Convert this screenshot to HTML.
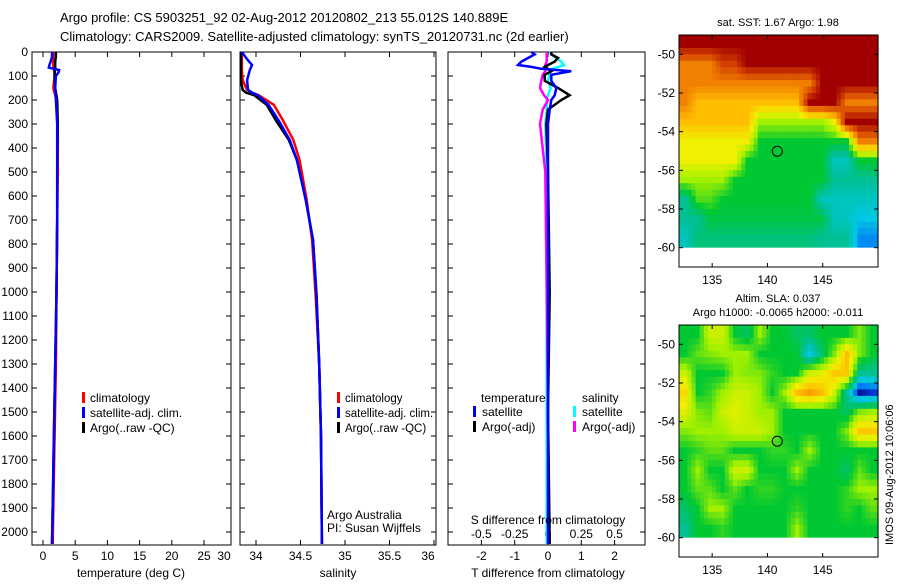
<!DOCTYPE html>
<html><head><meta charset="utf-8"><style>
body{margin:0;background:#fff;}
svg text{font-family:"Liberation Sans",sans-serif;font-size:12px;fill:#000;}
</style></head><body>
<svg id="c" width="900" height="580" viewBox="0 0 900 580" xmlns="http://www.w3.org/2000/svg">
<text x="60" y="22" style="font-size:13px">Argo profile: CS 5903251_92 02-Aug-2012 20120802_213 55.012S 140.889E</text>
<text x="60" y="41" style="font-size:13px">Climatology: CARS2009. Satellite-adjusted climatology: synTS_20120731.nc (2d earlier)</text>
<g id="g"></g>
</svg>
<script>
// ---- data ----
const tDepth=[0,20,40,54,65,75,85,100,150,200,300,500,700,1000,1300,1600,1900,2050];
const tClim=[1.6,1.6,1.6,1.6,1.6,1.7,1.8,1.8,1.6,2.1,2.3,2.3,2.2,2.1,2.0,1.8,1.6,1.5];
const tSat=[1.4,1.4,1.2,1.0,0.9,2.5,2.4,2.0,1.9,2.0,2.2,2.2,2.2,2.1,1.9,1.7,1.5,1.4];
const tArgo=[2.0,2.0,1.9,1.9,1.9,1.9,1.8,1.8,1.9,2.2,2.3,2.2,2.2,2.1,1.9,1.7,1.5,1.4];
const sDepth=[0,30,54,75,117,158,170,180,220,283,367,450,617,783,1012,1300,1600,2050];
const sClim=[33.84,33.84,33.84,33.84,33.85,33.9,33.96,34.03,34.2,34.3,34.42,34.49,34.57,34.63,34.67,34.71,34.73,34.74];
const sSat=[33.84,33.9,33.955,33.93,33.9,33.91,33.96,34.02,34.14,34.25,34.38,34.46,34.56,34.64,34.68,34.71,34.73,34.74];
const sArgo=[33.83,33.83,33.83,33.83,33.83,33.85,33.89,33.98,34.12,34.22,34.37,34.46,34.56,34.64,34.68,34.71,34.73,34.74];
const dDepth=[0,10,25,40,54,62,70,80,95,120,150,180,200,240,300,500,1000,1500,2050];
const dTsat=[-0.5,-0.4,-0.6,-0.8,-0.9,-0.5,-0.2,0.7,0.1,0.1,0.25,0.2,0.1,0.05,0.0,0.0,0.0,0.0,0.0];
const dTargo=[0.1,0.1,0.3,0.2,0.0,-0.1,0.0,0.1,-0.1,-0.1,0.3,0.65,0.4,0.0,-0.05,0.0,0.05,0.0,0.05];
const dSsat=[0.01,0.03,0.06,0.1,0.12,0.08,0.03,0.02,0.01,0.0,0.02,0.0,-0.01,-0.01,-0.02,-0.01,-0.01,-0.01,-0.01];
const dSargo=[-0.01,-0.01,-0.01,-0.01,-0.02,-0.02,-0.02,-0.02,-0.04,-0.05,-0.06,-0.03,0.0,-0.04,-0.06,-0.02,-0.01,0.0,0.01];
const depthTicks=[0,100,200,300,400,500,600,700,800,900,1000,1100,1200,1300,1400,1500,1600,1700,1800,1900,2000];
const tTicks=[0,5,10,15,20,25,30];
const sTicks=[34,34.5,35,35.5,36];
const dTTicks=[-2,-1,0,1,2];
const dSTicks=[-0.5,-0.25,0,0.25,0.5];
const dSTickLabels=["-0.5","-0.25","0","0.25","0.5"];
const latTicks=[-50,-52,-54,-56,-58,-60];
const lonTicks=[135,140,145];
const sstGrid=[
[10,10,10,10,10,10,10,10,10,10,10,10,10,10,10,10],
[8,8,8,9,9,10,10,10,10,10,10,10,10,10,10,10],
[8,8,8,8,8,8,8,8,8,8,8,10,10,10,10,10],
[8,7,7,7,7,7,7,7,7,7,10,10,10,8,8,8],
[7,7,7,7,7,7,5,5,5,5,5,5,6,10,10,10],
[6,6,6,6,6,6,4,4,4,4,4,4,4,4,8,8],
[6,6,6,6,6,4,4,4,4,4,4,4,2.5,2.5,4,4],
[5,5,5,5,4,4,4,4,4,4,4,4,3,3,3,3],
[3,4.5,4.5,4,4,4,4,4,4,4,4,2.5,2.5,2.5,2.5,2.5],
[3,3,3.8,3.8,3.8,3.8,3.8,3.8,3.8,3.8,3.8,3.8,2.5,2.5,2,2],
[2.5,3.3,3.3,3.3,3.3,3.3,3.3,3.3,3.3,3.3,3.3,3,3,3,1.5,1.5]];
const slaGrid=[
[4,4,5.5,5.5,4,3.5,5,4,4,3.5,3.5,4,4,4,4.8,4],
[4,4.6,4.8,5,5,5,4,4,4,4,2,3.5,4.8,7,4.8,4],
[5.5,4,4,4,5,4.8,4.8,4.3,4,4,5.5,5.8,6.8,6.8,3,3],
[6.5,4,4.3,5,5.5,5.5,5,4,5,7,7.5,7,5.5,3,0.5,0.8],
[5.8,4.8,4.6,5.5,5.8,5.5,5,5,4,4,4,4,4,3.5,4.8,5],
[4.8,5,5,5,5.5,5.5,5.5,5,4,4,4,4,4,4.8,6.8,6.8],
[4,4.3,4.6,4.6,4,4,4,4.3,4.3,4,5,4,4,4,4,4],
[4,5,4,4,5.5,5.5,4,4,4,5,4,4,4,3.5,4.6,4],
[4,4.6,4.6,4,4.6,4,4.3,4.3,4,4,4,4,4,4.3,5,5],
[3.5,4,5,5,4,4,4,4,4,4.3,4,4,4,4.3,4,4.6],
[3,4,4,4.3,4,4,4,4,4,5,4,4,4,4,4,4]];
const argoLon=140.889, argoLat=-55.012;

// ---- helpers ----
const NS="http://www.w3.org/2000/svg";
const G=document.getElementById('g');
function mk(tag,attrs,parent){const e=document.createElementNS(NS,tag);for(const k in attrs)e.setAttribute(k,attrs[k]);(parent||G).appendChild(e);return e;}
function txt(x,y,s,anchor,extra){const e=mk('text',Object.assign({x:x,y:y,'text-anchor':anchor||'start'},extra||{}));e.textContent=s;return e;}
const top0=52,bot0=545;
const yD=d=>top0+d*0.24;
function lin(d0,d1,p0,p1){return v=>p0+(v-d0)*(p1-p0)/(d1-d0);}
const panels=[{x0:32,x1:231,fx:lin(0,25,43,204)},{x0:240,x1:436,fx:lin(34,36,256,434)},{x0:448,x1:645,fx:lin(0,1,548,581.3)}];
function frame(p,name){
  const r=mk('rect',{x:p.x0,y:top0,width:p.x1-p.x0,height:bot0-top0,fill:'none',stroke:'#000','stroke-width':1});
  
  
  depthTicks.forEach(d=>{const y=yD(d);mk('line',{x1:p.x0,x2:p.x0+5,y1:y,y2:y,stroke:'#000'});mk('line',{x1:p.x1-5,x2:p.x1,y1:y,y2:y,stroke:'#000'});});
}
function xtick(p,x){if(x<p.x0||x>p.x1)return;mk('line',{x1:x,x2:x,y1:bot0,y2:bot0-5,stroke:'#000'});mk('line',{x1:x,x2:x,y1:top0,y2:top0+5,stroke:'#000'});}
function line(xs,ds,fx,color,name){
  const pts=xs.map((v,i)=>fx(v).toFixed(1)+','+yD(ds[i]).toFixed(1)).join(' ');
  const e=mk('polyline',{points:pts,fill:'none',stroke:color,'stroke-width':2.5});
  
  
}
function legMark(x,y,c){mk('rect',{x:x,y:y-10,width:3,height:11,fill:c});}

// panel 1 temperature
const p1=panels[0];frame(p1,'temperature-panel');
depthTicks.forEach(d=>{const t=txt(28,yD(d)+4,String(d),'end');});
tTicks.forEach(v=>{const x=p1.fx(v);xtick(p1,x);const t=txt(Math.min(x,224),560,String(v),'middle');});
line(tClim,tDepth,p1.fx,'#f00','temp-climatology-line');
line(tArgo,tDepth,p1.fx,'#000','temp-argo-line');
line(tSat,tDepth,p1.fx,'#00f','temp-satellite-line');
const xl1=txt(131,577,'temperature (deg C)','middle');
[['climatology','#f00'],['satellite-adj. clim.','#00f'],['Argo(..raw -QC)','#000']].forEach((l,i)=>{legMark(82,402+i*15,l[1]);const t=txt(90,402+i*15,l[0]);});

// panel 2 salinity
const p2=panels[1];frame(p2,'salinity-panel');
sTicks.forEach(v=>{const x=p2.fx(v);xtick(p2,x);const t=txt(Math.min(x,428),560,String(v),'middle');});
line(sClim,sDepth,p2.fx,'#f00','sal-climatology-line');
line(sArgo,sDepth,p2.fx,'#000','sal-argo-line');
line(sSat,sDepth,p2.fx,'#00f','sal-satellite-line');
const xl2=txt(338,577,'salinity','middle');
[['climatology','#f00'],['satellite-adj. clim.','#00f'],['Argo(..raw -QC)','#000']].forEach((l,i)=>{legMark(337,402+i*15,l[1]);const t=txt(345,402+i*15,l[0],'start',{style:'font-size:11.5px'});});
const pi1=txt(327,519,'Argo Australia');
const pi2=txt(327,532,'PI: Susan Wijffels');

// panel 3 differences
const p3=panels[2];frame(p3,'difference-panel');
const fS=lin(0,0.25,548,581.3);
dTTicks.forEach(v=>{const x=p3.fx(v);xtick(p3,x);const t=txt(x,560,String(v),'middle');});
dSTicks.forEach((v,i)=>{const t=txt(fS(v),538,dSTickLabels[i],'middle');});
line(dSsat,dDepth,fS,'#0ff','s-diff-satellite-line');
line(dSargo,dDepth,fS,'#f0f','s-diff-argo-line');
line(dTargo,dDepth,p3.fx,'#000','t-diff-argo-line');
line(dTsat,dDepth,p3.fx,'#00f','t-diff-satellite-line');
const sl=txt(548,524,'S difference from climatology','middle');
const tl=txt(548,577,'T difference from climatology','middle');
[[481,402,'temperature',null],[582,402,'salinity',null],[482,416,'satellite','#00f'],[582,416,'satellite','#0ff'],[482,431,'Argo(-adj)','#000'],[582,431,'Argo(-adj)','#f0f']].forEach(l=>{if(l[3])legMark(l[0]-9,l[1],l[3]);const t=txt(l[0],l[1],l[2]);});

// maps
const stops=[[0.5,[0,20,150]],[1,[0,80,255]],[2,[0,200,230]],[3,[0,192,150]],[4,[0,200,50]],[5,[160,240,0]],[6,[240,240,0]],[7,[255,190,0]],[8,[240,128,0]],[9,[210,64,0]],[10,[160,0,0]]];
function cmap(v){for(let i=0;i<stops.length-1;i++){const a=stops[i],b=stops[i+1];if(v<=b[0]){const t=Math.max(0,(v-a[0])/(b[0]-a[0]));return 'rgb('+a[1].map((c,k)=>Math.round(c+(b[1][k]-c)*t)).join(',')+')';}}return 'rgb(160,0,0)';}
function sample(grid,r,c){const R=grid.length,C=grid[0].length;r=Math.max(0,Math.min(R-1,r));c=Math.max(0,Math.min(C-1,c));
  const r0=Math.floor(r),c0=Math.floor(c),r1=Math.min(R-1,r0+1),c1=Math.min(C-1,c0+1),fr=r-r0,fc=c-c0;
  return grid[r0][c0]*(1-fr)*(1-fc)+grid[r0][c1]*(1-fr)*fc+grid[r1][c0]*fr*(1-fc)+grid[r1][c1]*fr*fc;}
function drawMap(y0,grid,name){
  const x0=679,x1=878,y1=y0+232;
  const fx=lin(132,150,x0,x1), fy=lin(-49,-61,y0,y1);
  const rows=grid.length, cols=grid[0].length, sub=3;
  for(let r=0;r<rows*sub;r++)for(let c=0;c<cols*sub;c++){
    const v=sample(grid,(r+0.5)/sub-0.5,(c+0.5)/sub-0.5);
    const lon0=132+c*18/(cols*sub), lon1=132+(c+1)*18/(cols*sub), la0=-49-r/sub, la1=-49-(r+1)/sub;
    const e=mk('rect',{x:fx(lon0).toFixed(1),y:fy(la0).toFixed(1),width:(fx(lon1)-fx(lon0)+0.6).toFixed(1),height:(fy(la1)-fy(la0)+0.6).toFixed(1),fill:cmap(v)});
    
    
  }
  mk('rect',{x:x0,y:fy(-60),width:x1-x0,height:y1-fy(-60),fill:'#fff'});
  const f=mk('rect',{x:x0,y:y0,width:x1-x0,height:y1-y0,fill:'none',stroke:'#000'});
  
  
  latTicks.forEach(v=>{const y=fy(v);mk('line',{x1:x0,x2:x0+4,y1:y,y2:y,stroke:'#000'});mk('line',{x1:x1-4,x2:x1,y1:y,y2:y,stroke:'#000'});const t=txt(x0-4,y+4,String(v),'end');});
  lonTicks.forEach(v=>{const x=fx(v);mk('line',{x1:x,x2:x,y1:y0,y2:y0+4,stroke:'#000'});mk('line',{x1:x,x2:x,y1:y1-4,y2:y1,stroke:'#000'});const t=txt(x,y1+17,String(v),'middle');});
  const m=mk('circle',{cx:fx(argoLon),cy:fy(argoLat),r:5,fill:'none',stroke:'#000','stroke-width':1});
  
  
}
drawMap(35,sstGrid,'sst-map');
const st=txt(778,26,'sat. SST: 1.67 Argo: 1.98','middle',{style:'font-size:11px'});
drawMap(325,slaGrid,'sla-map');
const a1=txt(778,302,'Altim. SLA: 0.037','middle',{style:'font-size:11px'});
const a2=txt(778,316,'Argo h1000: -0.0065 h2000: -0.011','middle',{style:'font-size:11px'});
const im=txt(0,0,'IMOS 09-Aug-2012 10:06:06','start',{transform:'translate(893,545) rotate(-90)',style:'font-size:11px'});
</script>
</body></html>
